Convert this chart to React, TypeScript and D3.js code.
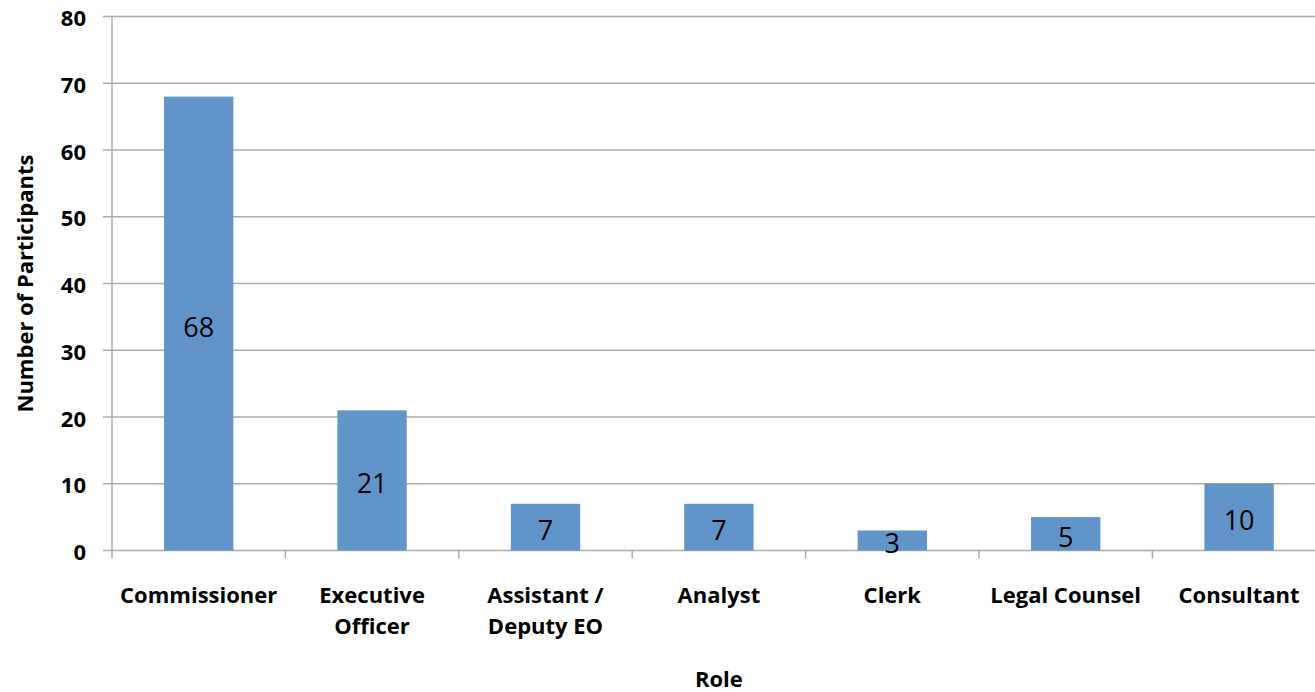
import React from "react";
import * as d3 from "d3";

const categories: string[][] = [
  ["Commissioner"],
  ["Executive", "Officer"],
  ["Assistant /", "Deputy EO"],
  ["Analyst"],
  ["Clerk"],
  ["Legal Counsel"],
  ["Consultant"],
];
const values: number[] = [68, 21, 7, 7, 3, 5, 10];
const yTicks: number[] = [0, 10, 20, 30, 40, 50, 60, 70, 80];
const yTitle = "Number of Participants";
const xTitle = "Role";

const W = 1315;
const H = 692;
const left = 112;
const band = 173.4;
const top = 16.5;
const bottom = 550.5;

export default function App() {
  const keys = categories.map((c) => c.join(" "));
  const x = d3
    .scaleBand<string>()
    .domain(keys)
    .range([left, left + band * keys.length])
    .paddingInner(0)
    .paddingOuter(0);
  const y = d3.scaleLinear().domain([0, 80]).range([bottom, top]);
  const bw = x.bandwidth() * 0.4;
  const grid = "#ABABAB";
  const font = "'Open Sans', sans-serif";

  return (
    <svg
      width={W}
      height={H}
      style={{ position: "absolute", left: 0, top: 0, background: "#fff" }}
      fontFamily={font}
    >
      {yTicks.map((t) => (
        <g key={t}>
          <line x1={103} x2={W} y1={y(t)} y2={y(t)} stroke={grid} strokeWidth={1.5} />
          <text
            x={86}
            y={y(t) + 9.5}
            textAnchor="end"
            fontSize={22}
            fontWeight={700}
            fill="#000"
          >
            {t}
          </text>
        </g>
      ))}
      <line x1={left} x2={left} y1={top} y2={bottom + 8} stroke={grid} strokeWidth={1.5} />
      {keys.map((k, i) => (
        <line
          key={"tk" + i}
          x1={(x(k) as number) + band}
          x2={(x(k) as number) + band}
          y1={bottom}
          y2={bottom + 8}
          stroke={grid}
          strokeWidth={1.5}
        />
      ))}
      {keys.map((k, i) => {
        const cx = (x(k) as number) + x.bandwidth() / 2;
        const v = values[i];
        return (
          <g key={"b" + i}>
            <rect x={cx - bw / 2} y={y(v)} width={bw} height={bottom - y(v)} fill="#6195C9" />
            <text
              x={cx}
              y={(y(v) + bottom) / 2 + 13}
              textAnchor="middle"
              fontSize={27}
              fill="#000"
            >
              {v}
            </text>
            {categories[i].map((line, j) => (
              <text
                key={j}
                x={cx}
                y={602.5 + j * 31.5}
                textAnchor="middle"
                fontSize={22}
                fontWeight={700}
                fill="#000"
              >
                {line}
              </text>
            ))}
          </g>
        );
      })}
      <text
        x={(left + left + band * keys.length) / 2}
        y={686.5}
        textAnchor="middle"
        fontSize={22}
        fontWeight={700}
        fill="#000"
      >
        {xTitle}
      </text>
      <text
        transform={`translate(33, ${(top + bottom) / 2}) rotate(-90)`}
        textAnchor="middle"
        fontSize={22}
        fontWeight={700}
        fill="#000"
      >
        {yTitle}
      </text>
    </svg>
  );
}
